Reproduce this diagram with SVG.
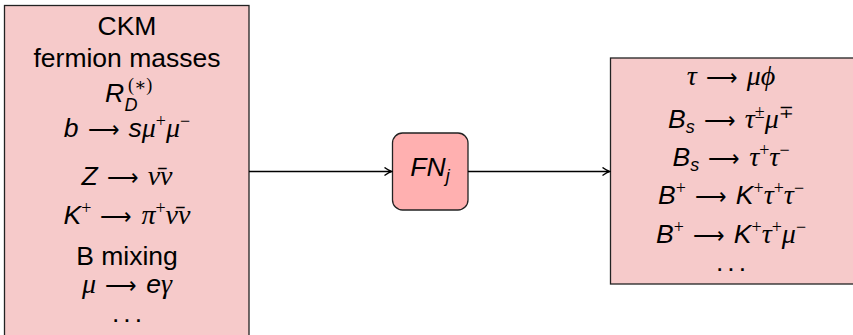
<svg xmlns="http://www.w3.org/2000/svg" width="853" height="335" viewBox="0 0 853 335">
<defs>
<style>
.box{fill:#f6caca;stroke:#222;stroke-width:1.3}
.fn{fill:#ffb0b0;stroke:#222;stroke-width:1.3}
.t{font-family:"Liberation Sans",Arial,sans-serif;font-size:26.5px;fill:#000;text-anchor:middle}
.s{font-family:"Liberation Sans",Arial,sans-serif;font-size:26.5px;fill:#000}
.i{font-style:italic}
.g{font-family:"Liberation Serif","DejaVu Serif",serif;font-style:italic;font-size:28px}
.a{font-family:"DejaVu Sans",sans-serif;font-style:normal;font-size:22px;font-weight:200}
.sp{font-size:18px;font-family:"Liberation Serif","DejaVu Serif",serif;font-style:normal}
.sb{font-size:18px}
.d{letter-spacing:4px}
.c{fill:none;stroke:#000;stroke-width:1.4}
</style>
<marker id="arr" viewBox="-8 -5 9 10" refX="0" refY="0" markerWidth="9" markerHeight="10" markerUnits="userSpaceOnUse" orient="auto">
<path d="M-7,-4 Q-2.5,-0.8 0,0 Q-2.5,0.8 -7,4" fill="none" stroke="#000" stroke-width="1.4"/>
</marker>
</defs>
<g id="inputs">
<rect class="box" x="4.5" y="5.5" width="244.5" height="340"/>
<text class="t" x="127" y="35">CKM</text>
<text class="t" x="127" y="67">fermion masses</text>
<text class="s i" x="105" y="102">R</text>
<text class="s i sb" x="124.5" y="110.5">D</text>
<text class="s sp" x="128" y="91">(∗)</text>
<text class="t" x="127" y="137"><tspan class="i">b</tspan><tspan class="a" dx="9">⟶</tspan><tspan class="i" dx="9">s</tspan><tspan class="g">μ</tspan><tspan class="sp" dy="-10">+</tspan><tspan class="g" dy="10">μ</tspan><tspan class="sp" dy="-10">−</tspan></text>
<text class="t" x="127" y="185"><tspan class="i">Z</tspan><tspan class="a" dx="9">⟶</tspan><tspan class="g" dx="9">ν̄ν</tspan></text>
<text class="t" x="127" y="224"><tspan class="i">K</tspan><tspan class="sp" dy="-10">+</tspan><tspan class="a" dx="9" dy="10">⟶</tspan><tspan class="g" dx="9">π</tspan><tspan class="sp" dy="-10">+</tspan><tspan class="g" dy="10">ν̄ν</tspan></text>
<text class="t" x="127" y="265">B mixing</text>
<text class="t" x="127" y="293"><tspan class="g">μ</tspan><tspan class="a" dx="9">⟶</tspan><tspan class="i" dx="9">e</tspan><tspan class="g">γ</tspan></text>
<text class="t d" x="129" y="322">...</text>
</g>
<g id="fn">
<rect class="fn" x="392.5" y="133" width="75.5" height="77" rx="10"/>
<text class="t" x="430" y="176"><tspan class="i">FN</tspan><tspan class="i sb" dy="6">j</tspan></text>
</g>
<g id="outputs">
<rect class="box" x="610.5" y="58" width="250" height="226"/>
<text class="t" x="731" y="85"><tspan class="g">τ</tspan><tspan class="a" dx="9">⟶</tspan><tspan class="g" dx="9">μϕ</tspan></text>
<text class="t" x="731" y="128"><tspan class="i">B</tspan><tspan class="i sb" dy="5">s</tspan><tspan class="a" dx="9" dy="-5">⟶</tspan><tspan class="g" dx="9">τ</tspan><tspan class="sp" dy="-10">±</tspan><tspan class="g" dy="10">μ</tspan><tspan class="sp" dy="-10">∓</tspan></text>
<text class="t" x="731" y="166"><tspan class="i">B</tspan><tspan class="i sb" dy="5">s</tspan><tspan class="a" dx="9" dy="-5">⟶</tspan><tspan class="g" dx="9">τ</tspan><tspan class="sp" dy="-10">+</tspan><tspan class="g" dy="10">τ</tspan><tspan class="sp" dy="-10">−</tspan></text>
<text class="t" x="731" y="204"><tspan class="i">B</tspan><tspan class="sp" dy="-10">+</tspan><tspan class="a" dx="9" dy="10">⟶</tspan><tspan class="i" dx="9">K</tspan><tspan class="sp" dy="-10">+</tspan><tspan class="g" dy="10">τ</tspan><tspan class="sp" dy="-10">+</tspan><tspan class="g" dy="10">τ</tspan><tspan class="sp" dy="-10">−</tspan></text>
<text class="t" x="731" y="243"><tspan class="i">B</tspan><tspan class="sp" dy="-10">+</tspan><tspan class="a" dx="9" dy="10">⟶</tspan><tspan class="i" dx="9">K</tspan><tspan class="sp" dy="-10">+</tspan><tspan class="g" dy="10">τ</tspan><tspan class="sp" dy="-10">+</tspan><tspan class="g" dy="10">μ</tspan><tspan class="sp" dy="-10">−</tspan></text>
<text class="t d" x="733" y="271">...</text>
</g>
<g id="connectors">
<line class="c" x1="249" y1="171.5" x2="391.5" y2="171.5" marker-end="url(#arr)"/>
<line class="c" x1="468" y1="171.5" x2="609.5" y2="171.5" marker-end="url(#arr)"/>
</g>
</svg>
